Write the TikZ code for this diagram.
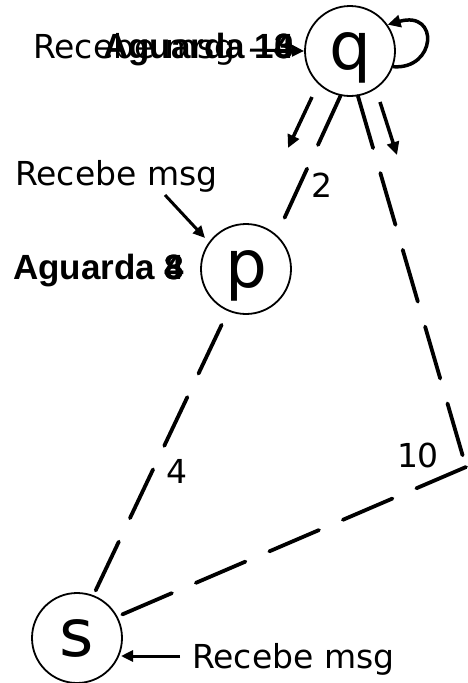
\documentclass[tikz,border=0pt]{standalone}
\usepackage{fontspec}
\setmainfont{DejaVu Sans}
\newfontfamily\boldlab{Liberation Sans}[BoldFont={Liberation Sans Bold}]
\usetikzlibrary{arrows.meta}
\tikzset{
  st/.style={circle,draw,line width=1.8pt,minimum size=90pt,inner sep=0pt,
    font=\fontsize{66}{66}\selectfont,text height=36pt,text depth=0pt},
  dl/.style={line width=3.8pt,line cap=round,dash pattern=on 54pt off 26pt},
  arr/.style={line width=3.5pt,-{Triangle[length=13pt,width=12pt]}},
  marr/.style={line width=3pt,-{Triangle[length=12pt,width=11pt]}},
  lab/.style={font=\fontsize{33}{33}\selectfont,inner sep=0pt},
  blab/.style={font=\boldlab\bfseries\fontsize{35}{35}\selectfont,inner sep=0pt,anchor=base west},
  rlab/.style={font=\fontsize{33}{33}\selectfont,inner sep=0pt,anchor=base west},
}
\begin{document}
\begin{tikzpicture}[x=1pt,y=1pt]
\useasboundingbox (0,0) rectangle (468,-683);
\node[st] (q) at (350,-51) {q};
\node[st] (p) at (246,-269) {p};
\node[st] (s) at (77,-638) {s};
\coordinate (c) at (466,-467);
% dashed links
\draw[dl] (q.-102) -- (p.48);
\draw[dl] (q.-80) -- (c);
\draw[dl] (c) -- (s.28);
\draw[dl,dash phase=65pt] (p.-113) -- (s.69);
% weights
\node[lab] (w2) at (322,-185) {2};
\node[lab] (w4) at (177,-471) {4};
\node[lab] (w10) at (418,-455) {10};
% message arrows along links
\coordinate (a1s) at (312,-97);
\coordinate (a1e) at (288,-148);
\coordinate (a2s) at (380,-102);
\coordinate (a2e) at (397,-155);
\draw[arr] (a1s) -- (a1e);
\draw[arr] (a2s) -- (a2e);
% self loop on q
\draw[arr] (q.-20) .. controls (436,-70) and (440,-10) .. (q.35);
% labels at q
\node[rlab] (rq) at (33,-58) {Recebe msg};
\node[blab] (aq) at (103,-58) {Aguarda 1\rlap{0}\rlap{3}4};
\coordinate (aqs) at (250,-50);
\draw[marr] (aqs) -- (q.west);
% labels at p
\node[rlab] (rp) at (15,-185) {Recebe msg};
\coordinate (rps) at (165,-195);
\coordinate (rpe) at (205,-238);
\draw[marr] (rps) -- (rpe);
\node[blab] (ap) at (13,-279) {Aguarda \rlap{3}\rlap{4}8};
% labels at s
\node[rlab] (rs) at (192,-668) {Recebe msg};
\coordinate (rss) at (180,-656);
\coordinate (rse) at (121,-656);
\draw[marr] (rss) -- (rse);
\end{tikzpicture}
\end{document}
